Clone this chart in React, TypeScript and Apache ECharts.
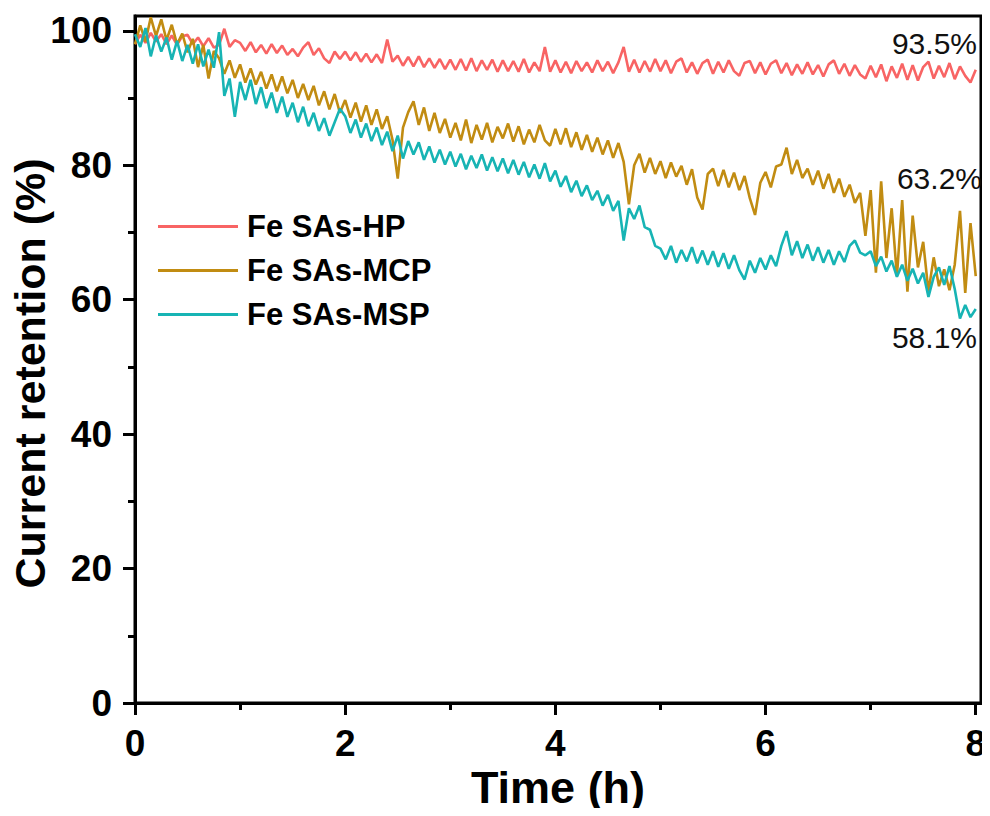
import React, { useEffect, useRef } from "react";
import * as echarts from "echarts";

const STEP_H = 0.05;

const hpValues = [
  98.0, 99.4, 98.2, 99.7, 98.4, 99.5, 98.0, 99.3, 97.9, 99.2,
  99.4, 98.0, 99.0, 97.7, 98.9, 97.5, 97.9, 100.3, 97.6, 98.6,
  98.2, 97.0, 98.3, 96.8, 97.9, 96.6, 98.0, 96.7, 97.8, 96.4,
  97.3, 96.2, 97.5, 98.3, 96.4, 97.4, 95.9, 95.2, 96.9, 95.8,
  96.9, 95.6, 96.8, 95.4, 96.6, 95.3, 96.5, 95.2, 98.7, 95.4,
  96.3, 94.8, 96.1, 94.7, 96.2, 94.6, 95.9, 94.5, 95.8, 94.3,
  95.7, 94.2, 95.8, 94.1, 95.9, 94.0, 95.6, 94.2, 95.7, 93.9,
  95.6, 94.0, 95.5, 93.9, 95.8, 93.8, 95.3, 94.0, 97.6, 93.9,
  95.6, 93.8, 95.4, 93.7, 95.5, 94.0, 95.3, 93.8, 95.6, 94.0,
  95.4, 93.7, 95.3, 97.6, 93.9, 95.7, 93.8, 95.5, 93.9, 95.8,
  94.0, 95.6, 93.7, 95.4, 95.9, 93.8, 95.3, 93.6, 95.2, 95.7,
  93.6, 95.4, 93.8, 95.6, 94.0, 93.3, 95.2, 95.5, 93.7, 95.3,
  93.5, 95.1, 95.6, 93.7, 95.2, 93.4, 95.0, 93.6, 95.3, 93.5,
  94.9, 93.2, 95.0, 95.6, 93.6, 95.1, 93.3, 94.9, 93.5, 92.9,
  94.8, 93.1, 95.0, 92.5, 94.7, 93.0, 95.1, 92.7, 94.9, 92.6,
  94.6, 95.4, 92.9, 94.8, 93.1, 95.2, 92.8, 94.7, 93.3, 92.3,
  94.2,
];

const mcpValues = [
  98.0, 100.8, 98.4, 102.0, 99.2, 101.7, 98.6, 100.9, 98.0, 99.6,
  96.8, 98.8, 94.6, 97.9, 92.9, 97.0, 95.9, 93.6, 95.6, 93.0,
  95.0, 92.3, 94.4, 92.0, 93.9, 91.4, 93.5, 91.0, 93.2, 90.7,
  92.7, 90.0, 92.1, 89.7, 91.8, 88.9, 91.0, 88.3, 90.6, 87.8,
  89.7, 87.1, 89.3, 86.5, 88.9, 86.0, 88.3, 85.4, 87.3, 83.8,
  78.0, 85.6, 87.9, 89.5, 86.0, 88.6, 85.1, 87.8, 84.8, 86.9,
  84.1, 86.3, 83.7, 86.8, 83.3, 86.0, 83.8, 86.3, 83.4, 85.7,
  84.0, 86.2, 83.5, 85.8, 83.1, 85.3, 83.4, 86.0, 83.7, 82.9,
  85.4, 83.1, 85.5, 82.7, 84.9, 82.3, 84.5, 82.0, 84.1, 81.6,
  83.7, 81.1, 83.3, 80.5, 74.2, 80.0, 81.7, 78.9, 81.1, 78.7,
  80.6, 78.1, 80.4, 78.3, 79.9, 77.1, 79.4, 75.2, 73.4, 78.7,
  79.5, 76.9, 79.3, 76.7, 78.9, 76.3, 78.4, 75.1, 72.6, 77.4,
  79.0, 76.7, 79.8, 80.1, 82.6, 78.7, 80.8, 78.1, 79.5, 77.1,
  79.2, 76.5, 78.7, 75.9, 78.0, 75.3, 77.1, 74.4, 75.9, 69.5,
  76.3, 64.0, 77.6, 66.2, 73.6, 63.5, 74.8, 61.2, 72.5, 64.8,
  68.6, 61.2, 66.3, 62.0, 64.5, 61.4, 65.2, 73.2, 61.0, 71.4,
  63.5,
];

const mspValues = [
  99.5, 97.6, 100.4, 96.2, 99.3, 96.9, 99.0, 95.7, 98.5, 95.5,
  97.9, 95.1, 98.0, 94.7, 97.2, 94.5, 99.8, 90.3, 92.9, 87.2,
  92.4, 89.7, 92.7, 89.1, 91.6, 88.5, 90.8, 87.8, 90.2, 87.2,
  89.3, 86.4, 88.7, 85.8, 87.8, 85.1, 87.0, 84.4, 86.4, 88.4,
  87.3, 84.8, 86.8, 84.1, 86.2, 83.6, 85.6, 83.0, 85.0, 82.1,
  84.4, 81.0, 83.6, 81.6, 83.4, 80.8, 82.8, 80.4, 82.3, 80.1,
  82.0, 79.8, 81.7, 79.4, 81.4, 79.6, 81.6, 79.2, 81.2, 79.1,
  81.0, 78.8, 80.8, 78.6, 80.5, 78.2, 80.1, 78.0, 80.3, 77.6,
  79.2, 76.8, 78.4, 76.0, 77.7, 75.4, 77.0, 74.8, 76.2, 74.0,
  75.6, 73.2, 74.7, 68.8, 73.6, 72.0, 74.0, 70.8, 70.4, 68.0,
  67.6, 66.0, 68.0, 65.5, 67.4, 65.7, 67.8, 65.4, 67.3, 65.2,
  67.2, 64.9, 66.9, 64.6, 66.6, 64.4, 63.0, 65.8, 64.0, 66.2,
  64.5, 66.6, 65.0, 68.0, 70.2, 66.6, 68.7, 66.2, 68.2, 65.8,
  67.8, 65.5, 67.4, 65.2, 67.2, 65.6, 68.0, 68.8, 67.0, 66.6,
  67.2, 65.0, 66.4, 64.2, 65.8, 63.4, 65.2, 62.8, 64.6, 62.4,
  64.0, 60.4, 63.4, 64.8, 62.2, 65.0, 61.6, 57.2, 59.2, 57.4,
  58.6,
];

const seriesNames = ["Fe SAs-HP", "Fe SAs-MCP", "Fe SAs-MSP"];
const seriesColors = ["#F86464", "#C18C12", "#17B4B4"];
const finalLabels = ["93.5%", "63.2%", "58.1%"];

const xMajorTicks = [0, 2, 4, 6, 8];
const xMinorTicks = [1, 3, 5, 7];
const yMajorTicks = [0, 20, 40, 60, 80, 100];
const yMinorTicks = [10, 30, 50, 70, 90];

const FONT = "'Liberation Sans', Arial, Helvetica, sans-serif";

function toPairs(values: number[]) {
  return values.map((v, i) => [Math.round(i * STEP_H * 100) / 100, v]);
}

export default function App() {
  const ref = useRef<HTMLDivElement>(null);

  useEffect(() => {
    if (!ref.current) return;
    const chart = echarts.init(ref.current, undefined, { renderer: "svg" });
    const allValues = [hpValues, mcpValues, mspValues];
    const XMAX = 8.05;
    const YMAX = 102.2;

    const baseX = {
      type: "value",
      min: 0,
      max: XMAX,
      splitLine: { show: false },
      position: "bottom",
    };
    const baseY = {
      type: "value",
      min: 0,
      max: YMAX,
      splitLine: { show: false },
      position: "left",
    };

    chart.setOption({
      animation: false,
      backgroundColor: "#ffffff",
      grid: {
        left: 135,
        right: 9,
        top: 16,
        bottom: 113,
        containLabel: false,
        outerBoundsMode: "none",
        show: true,
        borderColor: "#000",
        borderWidth: 3,
        backgroundColor: "transparent",
      },
      legend: {
        orient: "vertical",
        left: 158,
        top: 211,
        padding: 0,
        itemGap: 13,
        itemWidth: 80,
        itemHeight: 3,
        icon: "rect",
        data: seriesNames,
        textStyle: {
          fontFamily: FONT,
          fontWeight: "bold",
          fontSize: 31,
          lineHeight: 31,
          color: "#000",
          padding: [0, 0, 0, 4],
        },
      },
      xAxis: [
        {
          ...baseX,
          name: "Time (h)",
          nameLocation: "middle",
          nameGap: 62,
          nameMoveOverlap: false,
          nameTextStyle: { fontFamily: FONT, fontWeight: "bold", fontSize: 45, color: "#000" },
          axisLine: { show: true, lineStyle: { color: "#000", width: 3 } },
          axisTick: { show: true, inside: false, length: 12, lineStyle: { color: "#000", width: 3 }, customValues: xMajorTicks },
          axisLabel: {
            show: true,
            margin: 22,
            fontFamily: FONT,
            fontWeight: "bold",
            fontSize: 37,
            color: "#000",
            customValues: xMajorTicks,
          },
        },
        {
          ...baseX,
          axisLine: { show: false },
          axisTick: { show: true, inside: false, length: 7, lineStyle: { color: "#000", width: 3 }, customValues: xMinorTicks },
          axisLabel: { show: false },
        },
      ],
      yAxis: [
        {
          ...baseY,
          name: "Current retention (%)",
          nameLocation: "middle",
          nameGap: 84,
          nameMoveOverlap: false,
          nameTextStyle: {
            fontFamily: FONT,
            fontWeight: "bold",
            fontSize: 43,
            color: "#000",
            padding: [0, 28, 0, 0],
          },
          axisLine: { show: true, lineStyle: { color: "#000", width: 3 } },
          axisTick: { show: true, inside: false, length: 12, lineStyle: { color: "#000", width: 3 }, customValues: yMajorTicks },
          axisLabel: {
            show: true,
            margin: 23,
            fontFamily: FONT,
            fontWeight: "bold",
            fontSize: 37,
            color: "#000",
            customValues: yMajorTicks,
          },
        },
        {
          ...baseY,
          axisLine: { show: false },
          axisTick: { show: true, inside: false, length: 7, lineStyle: { color: "#000", width: 3 }, customValues: yMinorTicks },
          axisLabel: { show: false },
        },
      ],
      series: allValues.map((vals, i) => ({
        name: seriesNames[i],
        type: "line",
        xAxisIndex: 0,
        yAxisIndex: 0,
        data: toPairs(vals),
        symbol: "none",
        smooth: false,
        color: seriesColors[i],
        lineStyle: { color: seriesColors[i], width: 2.6 },
        z: 2 + i,
      })),
      graphic: [
        {
          type: "text",
          right: 13,
          top: 28,
          style: { text: finalLabels[0], fontFamily: FONT, fontSize: 30, fill: "#111" },
        },
        {
          type: "text",
          right: 8,
          top: 163,
          style: { text: finalLabels[1], fontFamily: FONT, fontSize: 30, fill: "#111" },
        },
        {
          type: "text",
          right: 13,
          top: 322,
          style: { text: finalLabels[2], fontFamily: FONT, fontSize: 30, fill: "#111" },
        },
      ],
    });

    return () => chart.dispose();
  }, []);

  return <div ref={ref} style={{ width: 990, height: 816, margin: -8 }} />;
}
